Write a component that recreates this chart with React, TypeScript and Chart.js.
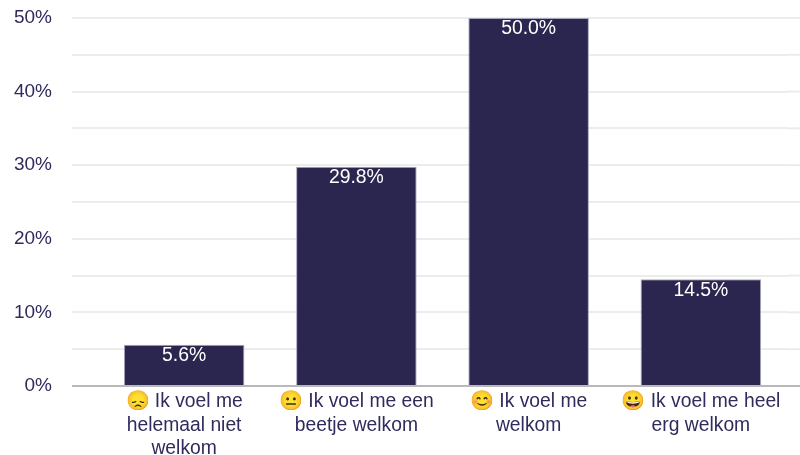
import React, { useEffect, useRef } from "react";
import { Chart, registerables } from "chart.js";

Chart.register(...registerables);

const categories = [
  ["😞 Ik voel me", "helemaal niet", "welkom"],
  ["😐 Ik voel me een", "beetje welkom"],
  ["😊 Ik voel me", "welkom"],
  ["😀 Ik voel me heel", "erg welkom"],
];
const values = [5.6, 29.8, 50.0, 14.5];
const valueLabels = ["5.6%", "29.8%", "50.0%", "14.5%"];

const INK = "#2f2b5c";
const BAR = "#2b264f";
const FONT = "'Liberation Sans', Arial, sans-serif";

const extras = {
  id: "extras",
  beforeDatasetsDraw(chart: any) {
    const { ctx, chartArea, scales } = chart;
    ctx.save();
    for (const t of scales.y.ticks) {
      const y = scales.y.getPixelForValue(t.value);
      ctx.beginPath();
      ctx.strokeStyle = t.value === 0 ? "#b9b9b9" : "#ececec";
      ctx.lineWidth = 2;
      ctx.moveTo(chartArea.right, y);
      ctx.lineTo(chart.width, y);
      ctx.stroke();
    }
    ctx.restore();
  },
  afterDatasetsDraw(chart: any) {
    const { ctx } = chart;
    ctx.save();
    ctx.fillStyle = "#ffffff";
    ctx.font = `19.4px ${FONT}`;
    ctx.textAlign = "center";
    ctx.textBaseline = "middle";
    chart.getDatasetMeta(0).data.forEach((bar: any, i: number) => {
      ctx.fillText(valueLabels[i], bar.x, bar.y + 11);
    });
    ctx.restore();
  },
};

export default function App() {
  const ref = useRef<HTMLCanvasElement>(null);
  useEffect(() => {
    const chart = new Chart(ref.current!, {
      type: "bar",
      data: {
        labels: categories,
        datasets: [
          {
            data: values,
            backgroundColor: BAR,
            borderColor: "#a9a7bd",
            borderWidth: 1,
            barPercentage: 0.7,
            categoryPercentage: 1,
          },
        ],
      },
      plugins: [extras],
      options: {
        animation: false,
        responsive: false,
        layout: { padding: { top: 18, right: 13, left: 0, bottom: 0 } },
        plugins: { legend: { display: false }, tooltip: { enabled: false } },
        scales: {
          x: {
            grid: { display: false },
            border: { display: false },
            afterFit: (s: any) => {
              s.height = 69;
            },
            ticks: {
              color: INK,
              font: { family: FONT, size: 19.3, lineHeight: 1.22 },
              maxRotation: 0,
              autoSkip: false,
              padding: -4,
            },
          },
          y: {
            min: 0,
            max: 50,
            border: { display: false },
            afterFit: (s: any) => {
              s.width = 98;
              s.paddingTop = 0;
              s.paddingBottom = 0;
            },
            grid: {
              color: (c: any) => (c.tick.value === 0 ? "#b9b9b9" : "#ececec"),
              tickColor: (c: any) => (c.tick.value === 0 ? "#b9b9b9" : "#ececec"),
              lineWidth: 2,
              tickWidth: 2,
              tickLength: 26,
            },
            ticks: {
              stepSize: 5,
              autoSkip: false,
              color: INK,
              padding: 20,
              font: { family: FONT, size: 19 },
              callback: (v: any) => (Number(v) % 10 === 0 ? `${v}%` : ""),
            },
          },
        },
      },
    } as any);
    return () => chart.destroy();
  }, []);
  return (
    <div style={{ position: "fixed", left: 0, top: 0, width: 800, height: 455, background: "#fff" }}>
      <canvas ref={ref} width={800} height={455} style={{ display: "block" }} />
    </div>
  );
}
